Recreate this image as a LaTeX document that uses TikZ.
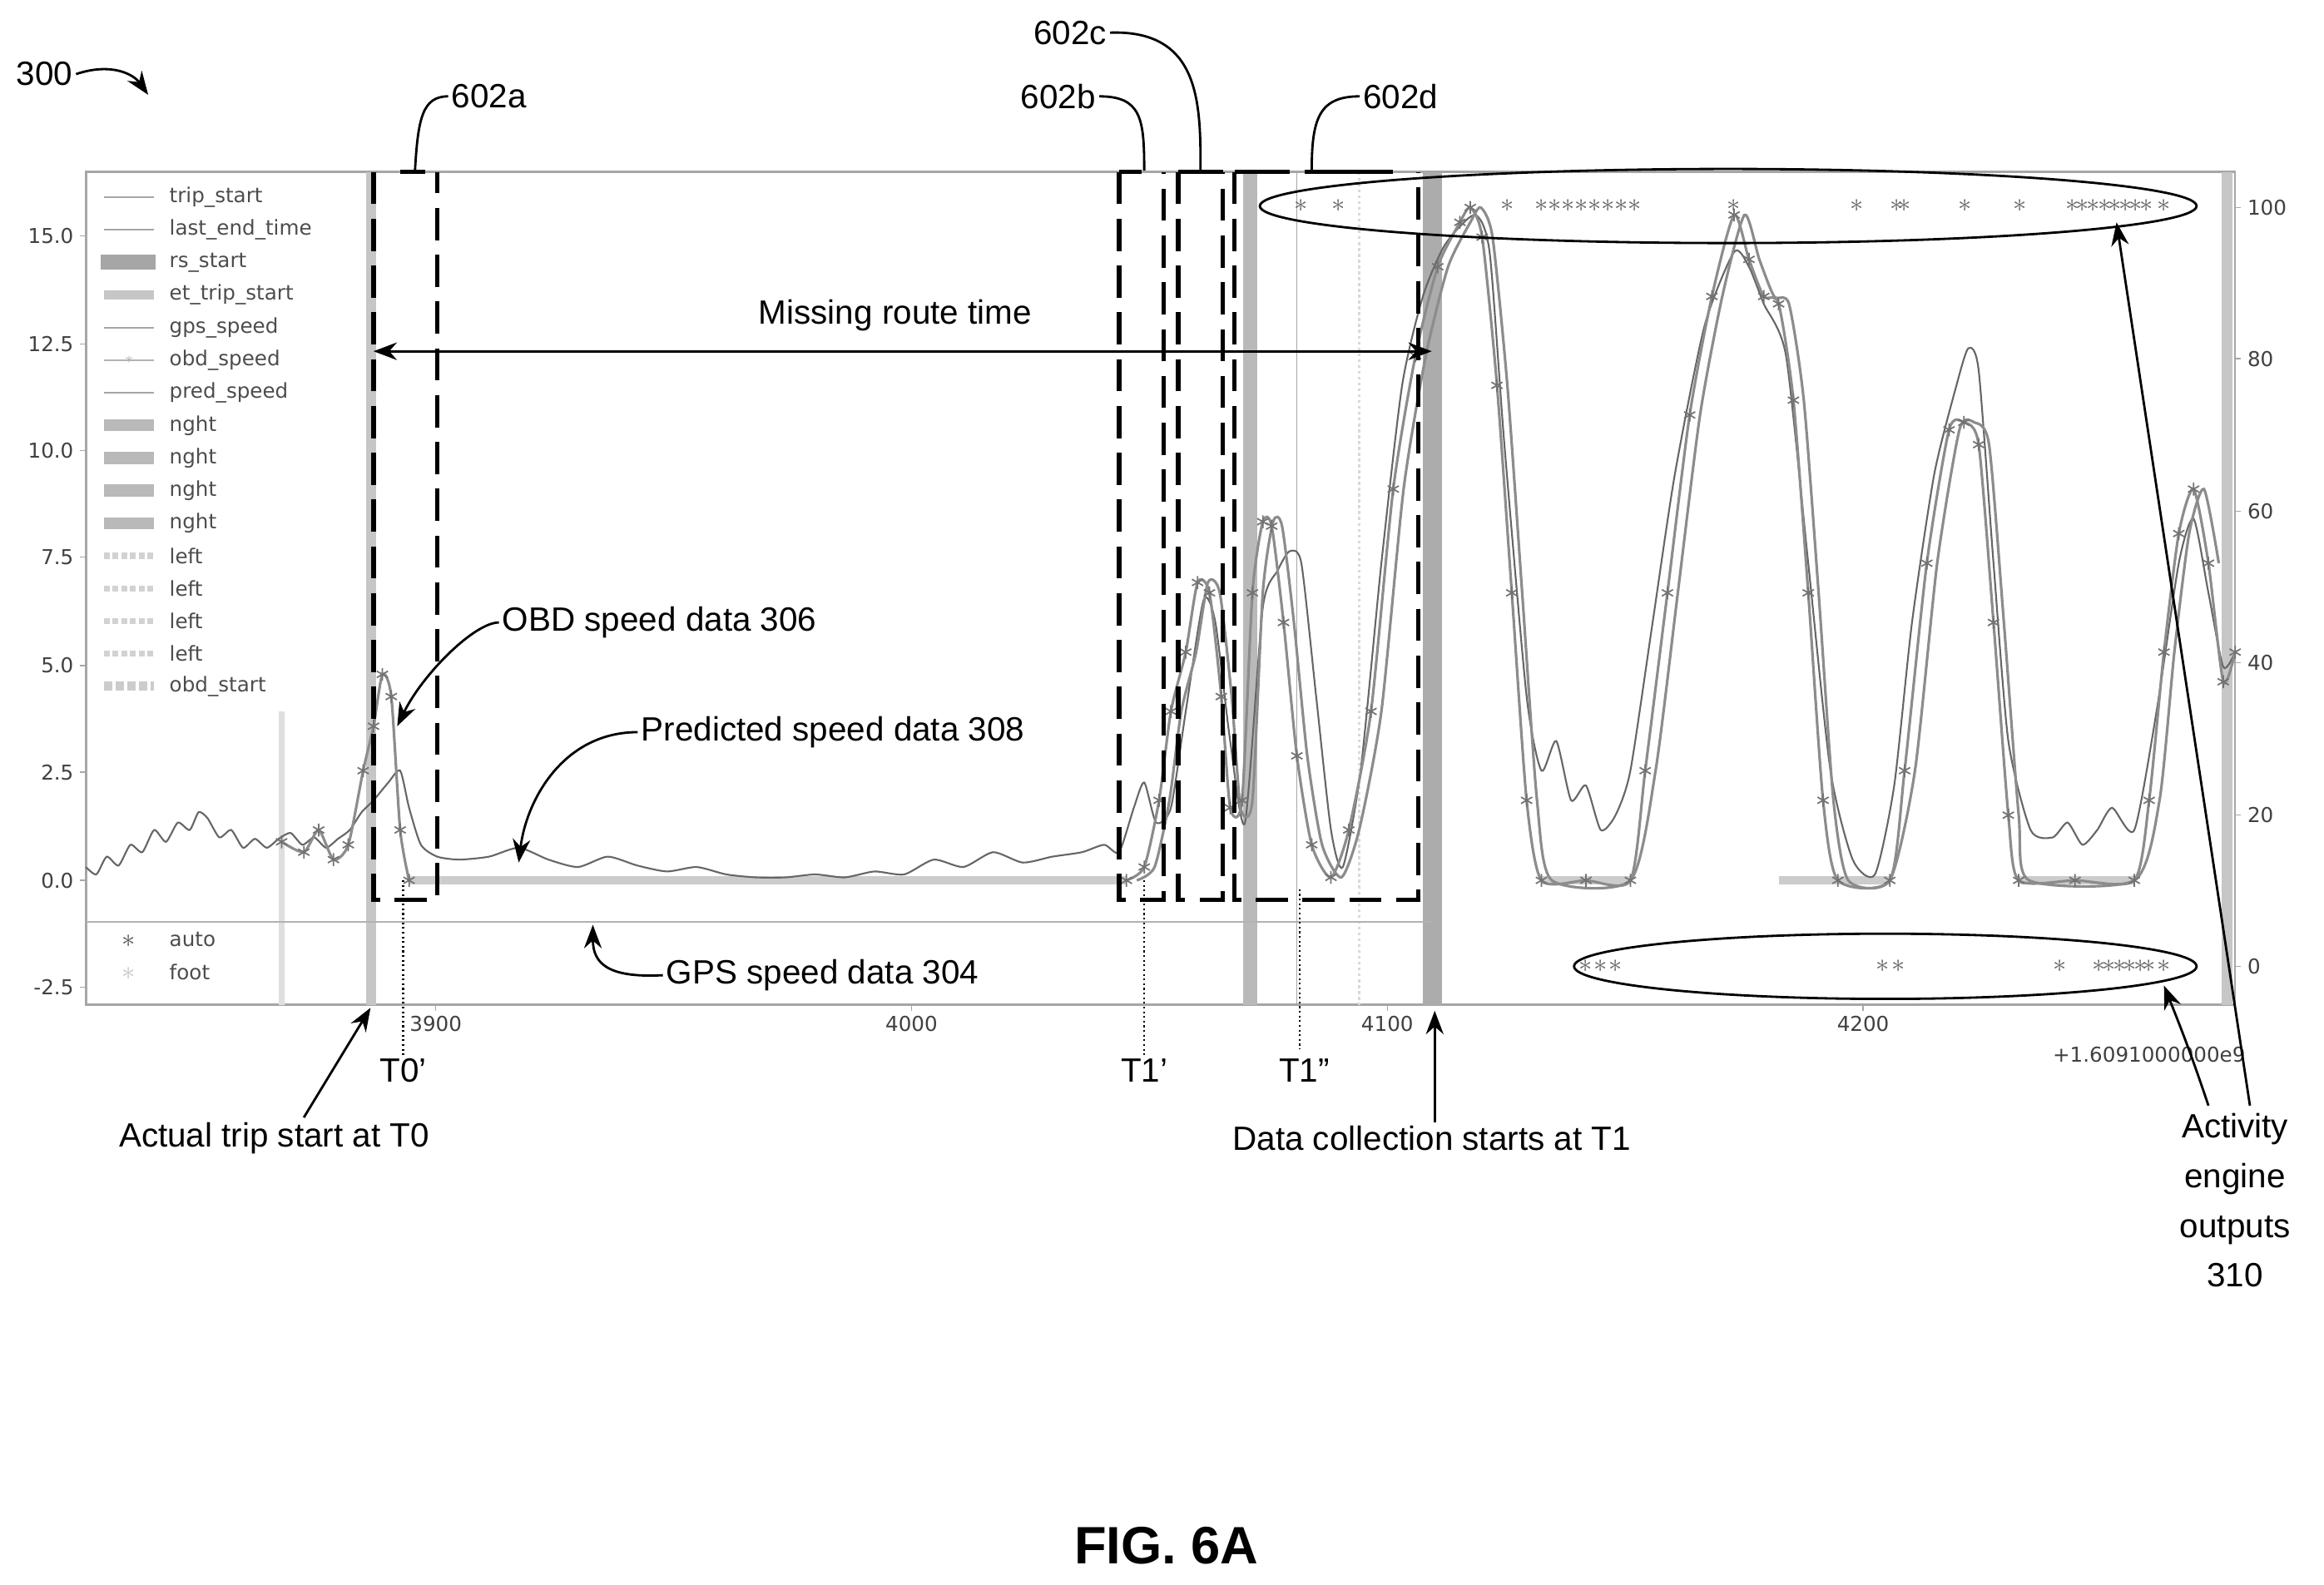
\documentclass[tikz,border=0pt]{standalone}
\usepackage{fontspec}
\setmainfont{Liberation Sans}
\newfontfamily\plotfont{DejaVu Sans}
\usetikzlibrary{arrows.meta,plotmarks}
\begin{document}
\begin{tikzpicture}[x=0.01781cm,y=-0.01781cm,
 lbl/.style={font=\fontsize{11.5}{13}\selectfont,inner sep=1pt},
 tick/.style={font=\plotfont\fontsize{7}{8}\selectfont,text=black!75,inner sep=1pt},
 leg/.style={font=\plotfont\fontsize{7}{8}\selectfont,text=black!70,anchor=west,inner sep=1pt},
 dbox/.style={line width=1.5pt,dash pattern=on 11pt off 5pt},
 arr/.style={-{Stealth[length=8pt,width=6pt]},line width=0.8pt},
 ldr/.style={line width=0.8pt},
 dot/.style={densely dotted,line width=0.6pt},
 obd/.style={black!45,line width=0.9pt},
 gps/.style={black!45,line width=0.9pt},
 pred/.style={black!60,line width=0.6pt},
 astar/.style={black!60,inner sep=0,font=\small}]
\useasboundingbox (0,0) rectangle (1568,1069);
% frame
\draw[gray!70,line width=0.7pt] (58,116) rectangle (1508,678);
% vertical bands
\fill[gray!25] (188,480) rectangle (192,678);
\fill[gray!45] (247,116) rectangle (254,678);
\fill[gray!55] (839,116) rectangle (848,678);
\draw[gray!70,line width=0.5pt] (875,116) -- (875,678);
\draw[gray!30,densely dotted,line width=1pt] (917,116) -- (917,678);
\fill[gray!65] (960,116) rectangle (973,678);
\fill[gray!45] (1499,116) rectangle (1506,678);
% horizontal lines
\draw[gray!60,line width=0.6pt] (58,622) -- (966,622);
\draw[gray!40,line width=3pt] (276,594) -- (760,594);
\foreach \a/\b in {1040/1100,1200/1275,1362/1440}{\draw[gray!40,line width=3pt] (\a,594) -- (\b,594);}
% curves
\draw[pred] plot[smooth,tension=0.4] coordinates {(58,585)(65,590)(72,578)(80,584)(88,570)(96,575)(104,560)(112,568)(120,555)(128,560)(134,548)(140,552)(148,565)(156,560)(164,572)(172,566)(180,572)(188,566)(196,562)(204,570)(212,565)(220,572)(228,566)(236,560)(244,548)(252,540)(262,528)(270,520)(276,545)(284,570)(295,578)(310,580)(330,578)(350,572)(370,580)(390,585)(410,578)(430,584)(450,588)(470,585)(490,590)(510,592)(530,592)(550,590)(570,592)(590,588)(610,590)(630,580)(650,585)(670,575)(690,582)(710,578)(730,575)(745,570)(755,575)(765,545)(772,528)(780,555)(790,545)(800,480)(812,405)(820,420)(830,500)(840,555)(852,410)(862,385)(870,372)(878,380)(888,470)(898,560)(906,585)(918,520)(932,380)(946,260)(960,200)(975,165)(995,145)(1005,170)(1015,300)(1030,470)(1040,520)(1050,500)(1060,540)(1070,530)(1080,560)(1090,550)(1100,520)(1115,420)(1130,320)(1150,220)(1170,170)(1180,180)(1190,205)(1205,240)(1220,380)(1235,520)(1250,580)(1265,590)(1278,530)(1290,420)(1305,320)(1320,260)(1328,235)(1335,250)(1345,380)(1355,500)(1370,560)(1385,565)(1395,555)(1405,570)(1415,560)(1425,545)(1440,560)(1455,480)(1470,380)(1480,350)(1490,400)(1500,450)(1508,440)};
\draw[gps,shift={(7,0)}] plot[smooth,tension=0.4] coordinates {(760,594)(772,585)(782,540)(790,480)(800,440)(808,393)(816,400)(824,470)(830,545)(838,540)(845,400)(852,352)(858,355)(866,420)(875,510)(885,570)(898,592)(910,560)(925,480)(940,330)(955,240)(970,180)(985,150)(992,140)(1000,160)(1010,260)(1020,400)(1030,540)(1040,594)(1093,594)(1110,520)(1125,400)(1140,280)(1155,200)(1170,145)(1180,175)(1190,200)(1200,205)(1210,270)(1220,400)(1230,540)(1240,594)(1268,594)(1285,520)(1300,380)(1315,290)(1325,285)(1335,300)(1345,420)(1355,550)(1362,594)(1433,594)(1450,540)(1460,440)(1470,360)(1480,330)(1490,380)};
\draw[obd] plot[smooth,tension=0.4,mark=asterisk,mark size=2.2pt,mark options={black!55,line width=0.5pt}] coordinates {(190,568)(205,575)(215,560)(225,580)(235,570)(245,520)(252,490)(258,455)(264,470)(270,560)(276,594)};
\draw[obd] plot[smooth,tension=0.4,mark=asterisk,mark size=2.2pt,mark options={black!55,line width=0.5pt}] coordinates {(760,594)(772,585)(782,540)(790,480)(800,440)(808,393)(816,400)(824,470)(830,545)(838,540)(845,400)(852,352)(858,355)(866,420)(875,510)(885,570)(898,592)(910,560)(925,480)(940,330)(955,240)(970,180)(985,150)(992,140)(1000,160)(1010,260)(1020,400)(1030,540)(1040,594)(1070,594)(1100,594)(1110,520)(1125,400)(1140,280)(1155,200)(1170,145)(1180,175)(1190,200)(1200,205)(1210,270)(1220,400)(1230,540)(1240,594)(1275,594)(1285,520)(1300,380)(1315,290)(1325,285)(1335,300)(1345,420)(1355,550)(1362,594)(1400,594)(1440,594)(1450,540)(1460,440)(1470,360)(1480,330)(1490,380)(1500,460)(1508,440)};
% legend
\foreach \y/\t/\s in {133/trip\_start/1,155/last\_end\_time/1,177/rs\_start/2,199/et\_trip\_start/3,221/gps\_speed/1,243/obd\_speed/4,265/pred\_speed/1,287/nght/5,309/nght/5,331/nght/5,353/nght/5,375/left/6,397/left/6,419/left/6,441/left/6,463/obd\_start/7}{
 \node[leg] (lg\y) at (112,\y) {\t};
 \ifcase\s\or \draw[gray!70,line width=0.5pt] (70,\y) -- (104,\y);
 \or \fill[gray!70] (68,\y-5) rectangle (105,\y+5);
 \or \fill[gray!45] (70,\y-3) rectangle (104,\y+3);
 \or \draw[gray!60,line width=0.5pt] (70,\y) -- (104,\y); \node[gray!60,inner sep=0,font=\tiny] at (87,\y) {$\ast$};
 \or \fill[gray!55] (70,\y-4) rectangle (104,\y+4);
 \or \draw[gray!35,densely dotted,line width=2pt] (70,\y) -- (104,\y);
 \or \draw[gray!40,densely dotted,line width=3pt] (70,\y) -- (104,\y);
 \fi}
\node[black!65,font=\small] at (87,635) {$\ast$}; \node[leg] (la) at (112,634) {auto};
\node[gray!45,font=\small] at (87,657) {$\ast$}; \node[leg] (lf) at (112,656) {foot};
% ticks
\foreach \y/\t in {159/15.0,232/12.5,304/10.0,376/7.5,449/5.0,521/2.5,594/0.0,666/{-2.5}}{\draw[gray!70] (54,\y)--(58,\y); \node[tick,anchor=east] at (52,\y) {\t};}
\foreach \y/\t in {140/100,242/80,345/60,447/40,550/20,652/0}{\draw[gray!70] (1508,\y)--(1512,\y); \node[tick,anchor=west] at (1514,\y) {\t};}
\foreach \x/\t in {294/3900,615/4000,936/4100,1257/4200}{\draw[gray!70] (\x,678)--(\x,682); \node[tick,anchor=north] at (\x,683) {\t};}
\node[tick,anchor=north] at (1450,704) {+1.6091000000e9};
% activity stars
\foreach \x in {878,903,1017,1040,1049,1058,1067,1076,1085,1094,1103,1170,1253,1280,1285,1326,1363,1398,1405,1412,1420,1427,1434,1441,1448,1460}{\node[astar] at (\x,139) {$\ast$};}
\foreach \x in {1070,1080,1090,1270,1281,1390,1416,1423,1430,1437,1444,1450,1460}{\node[astar] at (\x,652) {$\ast$};}
\draw[line width=0.8pt] (1166,139) ellipse (316 and 25);
\draw[line width=0.8pt] (1272,652) ellipse (210 and 22);
% dashed boxes
\draw[dbox] (252,116) -- (252,607) -- (295,607) -- (295,116);
\draw[dbox] (755,116) -- (755,607) -- (785,607) -- (785,116);
\draw[dbox] (795,116) -- (795,607) -- (825,607) -- (825,116);
\draw[dbox] (833,116) -- (833,607) -- (957,607) -- (957,116);
\draw[line width=1.5pt] (270,116) -- (287,116);
\draw[line width=1.5pt] (755,116) -- (770,116) (795,116)--(825,116) (833,116)--(870,116) (880,116)--(940,116);
% labels
\node[lbl] (n300) at (30,50) {300};
\coordinate (c300) at (100,64);
\draw[arr] (n300.east) .. controls (75,42) and (90,50) .. (c300);
\node[lbl] (a) at (330,65) {602a};
\coordinate (ca) at (280,115);
\draw[ldr] (a.west) .. controls (285,65) and (282,80) .. (ca);
\node[lbl] (b) at (714,65) {602b};
\coordinate (cb) at (772,115);
\draw[ldr] (b.east) .. controls (770,65) and (772,80) .. (cb);
\node[lbl] (c) at (722,22) {602c};
\coordinate (cc) at (810,115);
\draw[ldr] (c.east) .. controls (810,20) and (810,70) .. (cc);
\node[lbl] (d) at (945,65) {602d};
\coordinate (cd) at (885,115);
\draw[ldr] (d.west) .. controls (890,65) and (885,80) .. (cd);
\node[lbl] (mrt) at (604,213) {Missing route time};
\coordinate (m1) at (252,237); \coordinate (m2) at (966,237);
\draw[{Stealth[length=8pt,width=6pt]}-{Stealth[length=8pt,width=6pt]},line width=0.8pt] (m1) -- (m2);
\node[lbl] (obdl) at (445,420) {OBD speed data 306};
\coordinate (co) at (268,490);
\draw[arr] (obdl.west) .. controls (320,420) and (285,455) .. (co);
\node[lbl] (predl) at (562,494) {Predicted speed data 308};
\coordinate (cp) at (350,582);
\draw[arr] (predl.west) .. controls (380,494) and (355,540) .. (cp);
\node[lbl] (gpsl) at (555,658) {GPS speed data 304};
\coordinate (cg) at (400,624);
\draw[arr] (gpsl.west) .. controls (410,660) and (400,650) .. (cg);
\node[lbl] (t0p) at (272,722) {T0'};
\coordinate (q0) at (272,594); \draw[dot] (q0) -- (t0p.north);
\node[lbl] (t1p) at (772,722) {T1'};
\coordinate (q1) at (772,594); \draw[dot] (q1) -- (t1p.north);
\node[lbl] (t1pp) at (880,722) {T1''};
\coordinate (q2) at (877,600); \draw[dot] (q2) -- (877,708);
\node[lbl] (ats) at (185,768) {Actual trip start at T0};
\coordinate (ca0) at (250,680);
\draw[arr] (205,754) -- (ca0);
\node[lbl] (dcs) at (966,768) {Data collection starts at T1};
\coordinate (cd1) at (968,682);
\draw[arr] (dcs.north -| cd1) -- (cd1);
\node[lbl,align=center,font=\fontsize{11.5}{17}\selectfont] (aeo) at (1508,810) {Activity\\engine\\outputs\\310};
\coordinate (e1) at (1428,150); \coordinate (e2) at (1460,665);
\draw[arr] (1518,746) -- (e1);
\draw[arr] (1490,746) .. controls (1478,710) and (1470,690) .. (e2);
\node[font=\bfseries\fontsize{18}{20}\selectfont] (fig) at (787,1043) {FIG. 6A};
\end{tikzpicture}
\end{document}
